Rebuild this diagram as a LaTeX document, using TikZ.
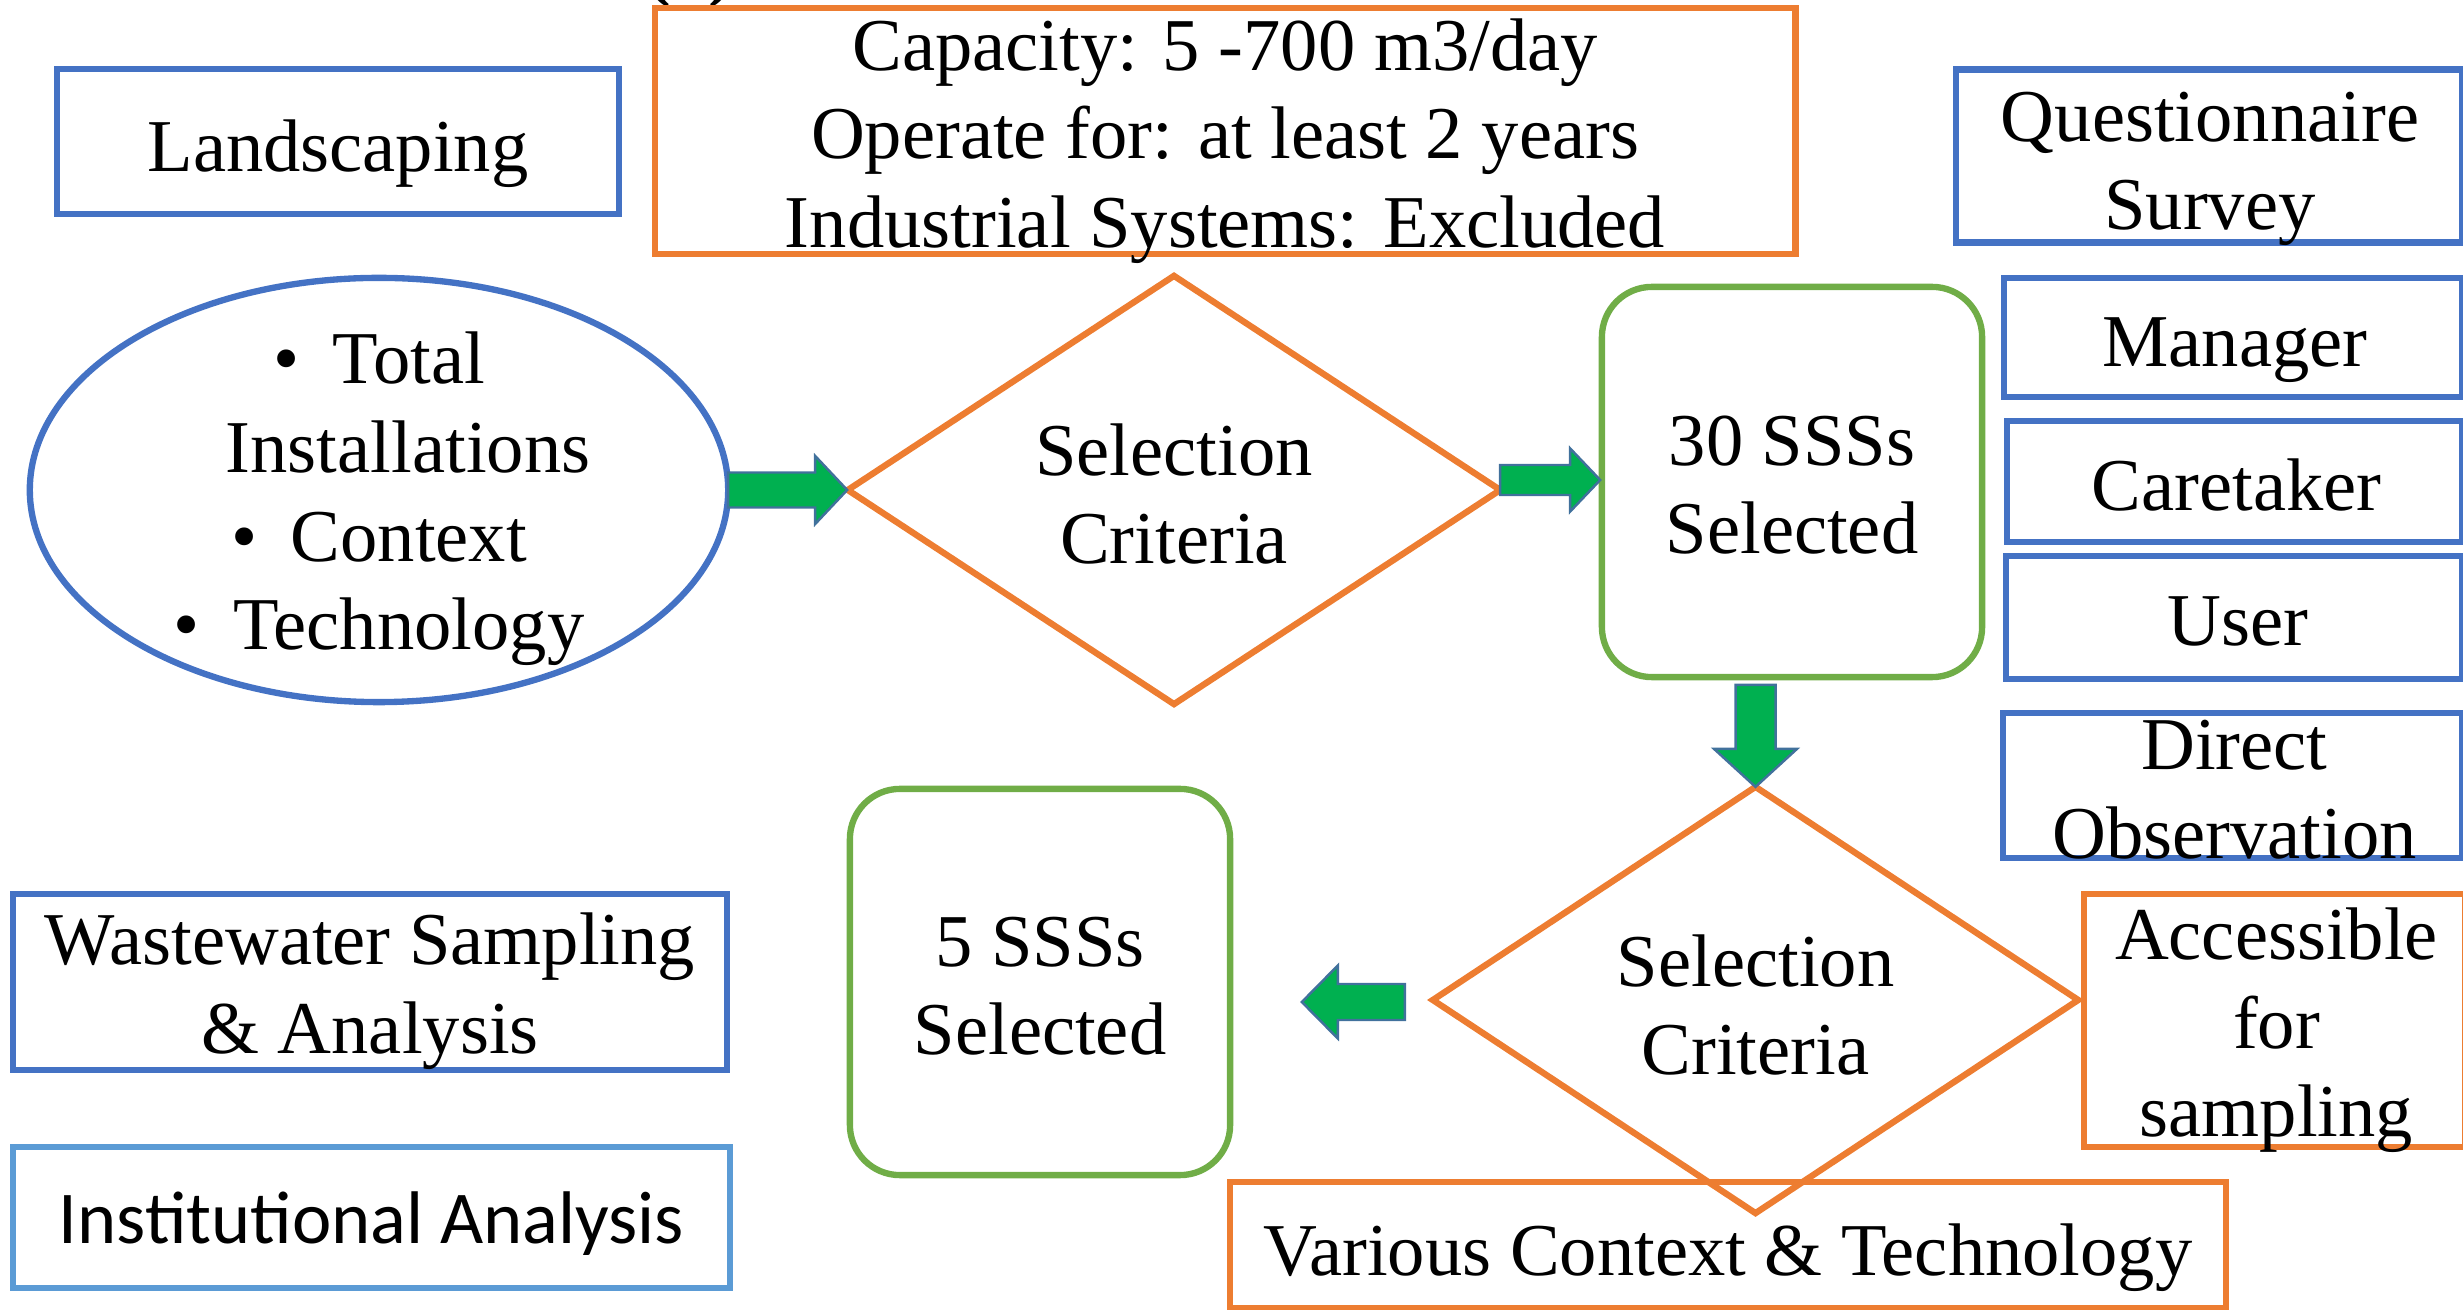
\documentclass[tikz,border=0pt]{standalone}
\usepackage{fontspec}
\setmainfont{Liberation Serif}
\newfontfamily\calfont{Carlito}
\usetikzlibrary{calc,shapes.geometric}
\definecolor{cblue}{HTML}{4472C4}
\definecolor{clblue}{HTML}{5B9BD5}
\definecolor{corange}{HTML}{ED7D31}
\definecolor{cgreen}{HTML}{70AD47}
\definecolor{agreen}{HTML}{00B050}
\definecolor{aborder}{HTML}{41719C}
\tikzset{
  boxbase/.style={rectangle, line width=1.8pt, inner sep=0pt, outer sep=0pt},
  bbox/.style={boxbase, draw=cblue},
  lbbox/.style={boxbase, draw=clblue},
  obox/.style={boxbase, draw=corange},
  gbox/.style={boxbase, draw=cgreen, rounded corners=0.5cm},
  dmd/.style={diamond, draw=corange, line width=1.8pt, inner sep=0pt, outer sep=0pt},
  ell/.style={ellipse, draw=cblue, line width=1.8pt, inner sep=0pt, outer sep=0pt},
  txt/.style={font=\fontsize{21.2pt}{25.2pt}\selectfont, align=center, inner sep=0pt},
  garrow/.style={fill=agreen, draw=aborder, line width=0.7pt, line join=miter}
}
\begin{document}
\begin{tikzpicture}[x=0.01cm, y=-0.01cm]
\useasboundingbox (0,0) rectangle (2463,1310);

% partially visible label at the very top
\node[font=\fontsize{21.2pt}{25.2pt}\selectfont\bfseries, anchor=base, inner sep=0pt] (lbl) at (690,-7) {(a)};

% boxes
\node[bbox, minimum width=5.62cm, minimum height=1.45cm] (land) at (338,141.5) {};
\node[obox, minimum width=11.40cm, minimum height=2.46cm] (crit) at (1225,131) {};
\node[bbox, minimum width=5.06cm, minimum height=1.73cm] (quest) at (2209,156) {};
\node[bbox, minimum width=4.58cm, minimum height=1.19cm] (man) at (2233,337.5) {};
\node[bbox, minimum width=4.55cm, minimum height=1.21cm] (care) at (2234.5,481.5) {};
\node[bbox, minimum width=4.56cm, minimum height=1.23cm] (user) at (2234,617.5) {};
\node[bbox, minimum width=4.59cm, minimum height=1.45cm] (obs) at (2232.5,785.5) {};
\node[obox, minimum width=3.81cm, minimum height=2.53cm] (acc) at (2274.5,1020.5) {};
\node[obox, minimum width=9.95cm, minimum height=1.26cm] (var) at (1728,1245) {};
\node[bbox, minimum width=7.14cm, minimum height=1.76cm] (ww) at (370,982) {};
\node[lbbox, minimum width=7.17cm, minimum height=1.41cm] (inst) at (371.5,1217.5) {};
\node[ell, minimum width=6.98cm, minimum height=4.24cm] (ellp) at (379,490) {};
\node[dmd, minimum width=6.52cm, minimum height=4.28cm] (d1) at (1174,490) {};
\node[dmd, minimum width=6.45cm, minimum height=4.26cm] (d2) at (1755.5,1000) {};
\node[gbox, minimum width=3.80cm, minimum height=3.90cm] (g30) at (1792,482) {};
\node[gbox, minimum width=3.80cm, minimum height=3.86cm] (g5) at (1040,982) {};

% block arrows
\draw[garrow] (ellp.east) ++(0,-17.5) -- ++(87,0) -- ++(0,-16.5) -- ++(32,34) -- ++(-32,34) -- ++(0,-16.5) -- ++(-87,0) -- cycle;
\draw[garrow] ($(d1.east)+(0,-10)$) ++(0,-15) -- ++(70,0) -- ++(0,-16.5) -- ++(30,31.5) -- ++(-30,31.5) -- ++(0,-16.5) -- ++(-70,0) -- cycle;
\draw[garrow] ($(d2.north)+(0,-102)$) ++(-20,0) -- ++(0,64) -- ++(-21.5,0) -- ++(41.5,38) -- ++(41.5,-38) -- ++(-21.5,0) -- ++(0,-64) -- cycle;
\draw[garrow] ($(d2.west)+(-28,2)$) ++(0,-18) -- ++(-67,0) -- ++(0,-18.5) -- ++(-36,36.5) -- ++(36,36.5) -- ++(0,-18.5) -- ++(67,0) -- cycle;

% texts
\node[txt] (landt) at ($(land)+(0,12)$) {Landscaping};
\node[txt] (critt) at ($(crit)+(0,10)$) {Capacity: 5 -700 m3/day\\Operate for: at least 2 years\\Industrial Systems: Excluded};
\node[txt] (questt) at ($(quest)+(1,13)$) {Questionnaire\\Survey};
\node[txt] (mant) at ($(man)+(2,13)$) {Manager};
\node[txt] (caret) at ($(care)+(2,4)$) {Caretaker};
\node[txt] (usert) at ($(user)+(4,4)$) {User};
\node[txt] (obst) at ($(obs)+(2,4)$) {Direct\\Observation};
\node[txt] (acct) at ($(acc)+(2,10)$) {Accessible\\for\\sampling};
\node[txt] (vart) at ($(var)+(0,13)$) {Various Context \& Technology};
\node[txt] (wwt) at ($(ww)+(0,9)$) {Wastewater Sampling\\\& Analysis};
\node[txt, font=\calfont\fontsize{21.2pt}{25.2pt}\selectfont] (instt) at ($(inst)+(0,6)$) {Institutional Analysis};
\node[txt] (ellt) at ($(ellp)+(0,9)$) {\textbullet\hspace{0.45em}Total\\\hspace*{16.5pt}Installations\\\textbullet\hspace{0.45em}Context\\\textbullet\hspace{0.45em}Technology};
\node[txt] (d1t) at ($(d1)+(0,4)$) {Selection\\Criteria};
\node[txt] (d2t) at ($(d2)+(0,5)$) {Selection\\Criteria};
\node[txt] (g30t) at ($(g30)+(0,3)$) {30 SSSs\\Selected};
\node[txt] (g5t) at ($(g5)+(0,4)$) {5 SSSs\\Selected};
\end{tikzpicture}
\end{document}
